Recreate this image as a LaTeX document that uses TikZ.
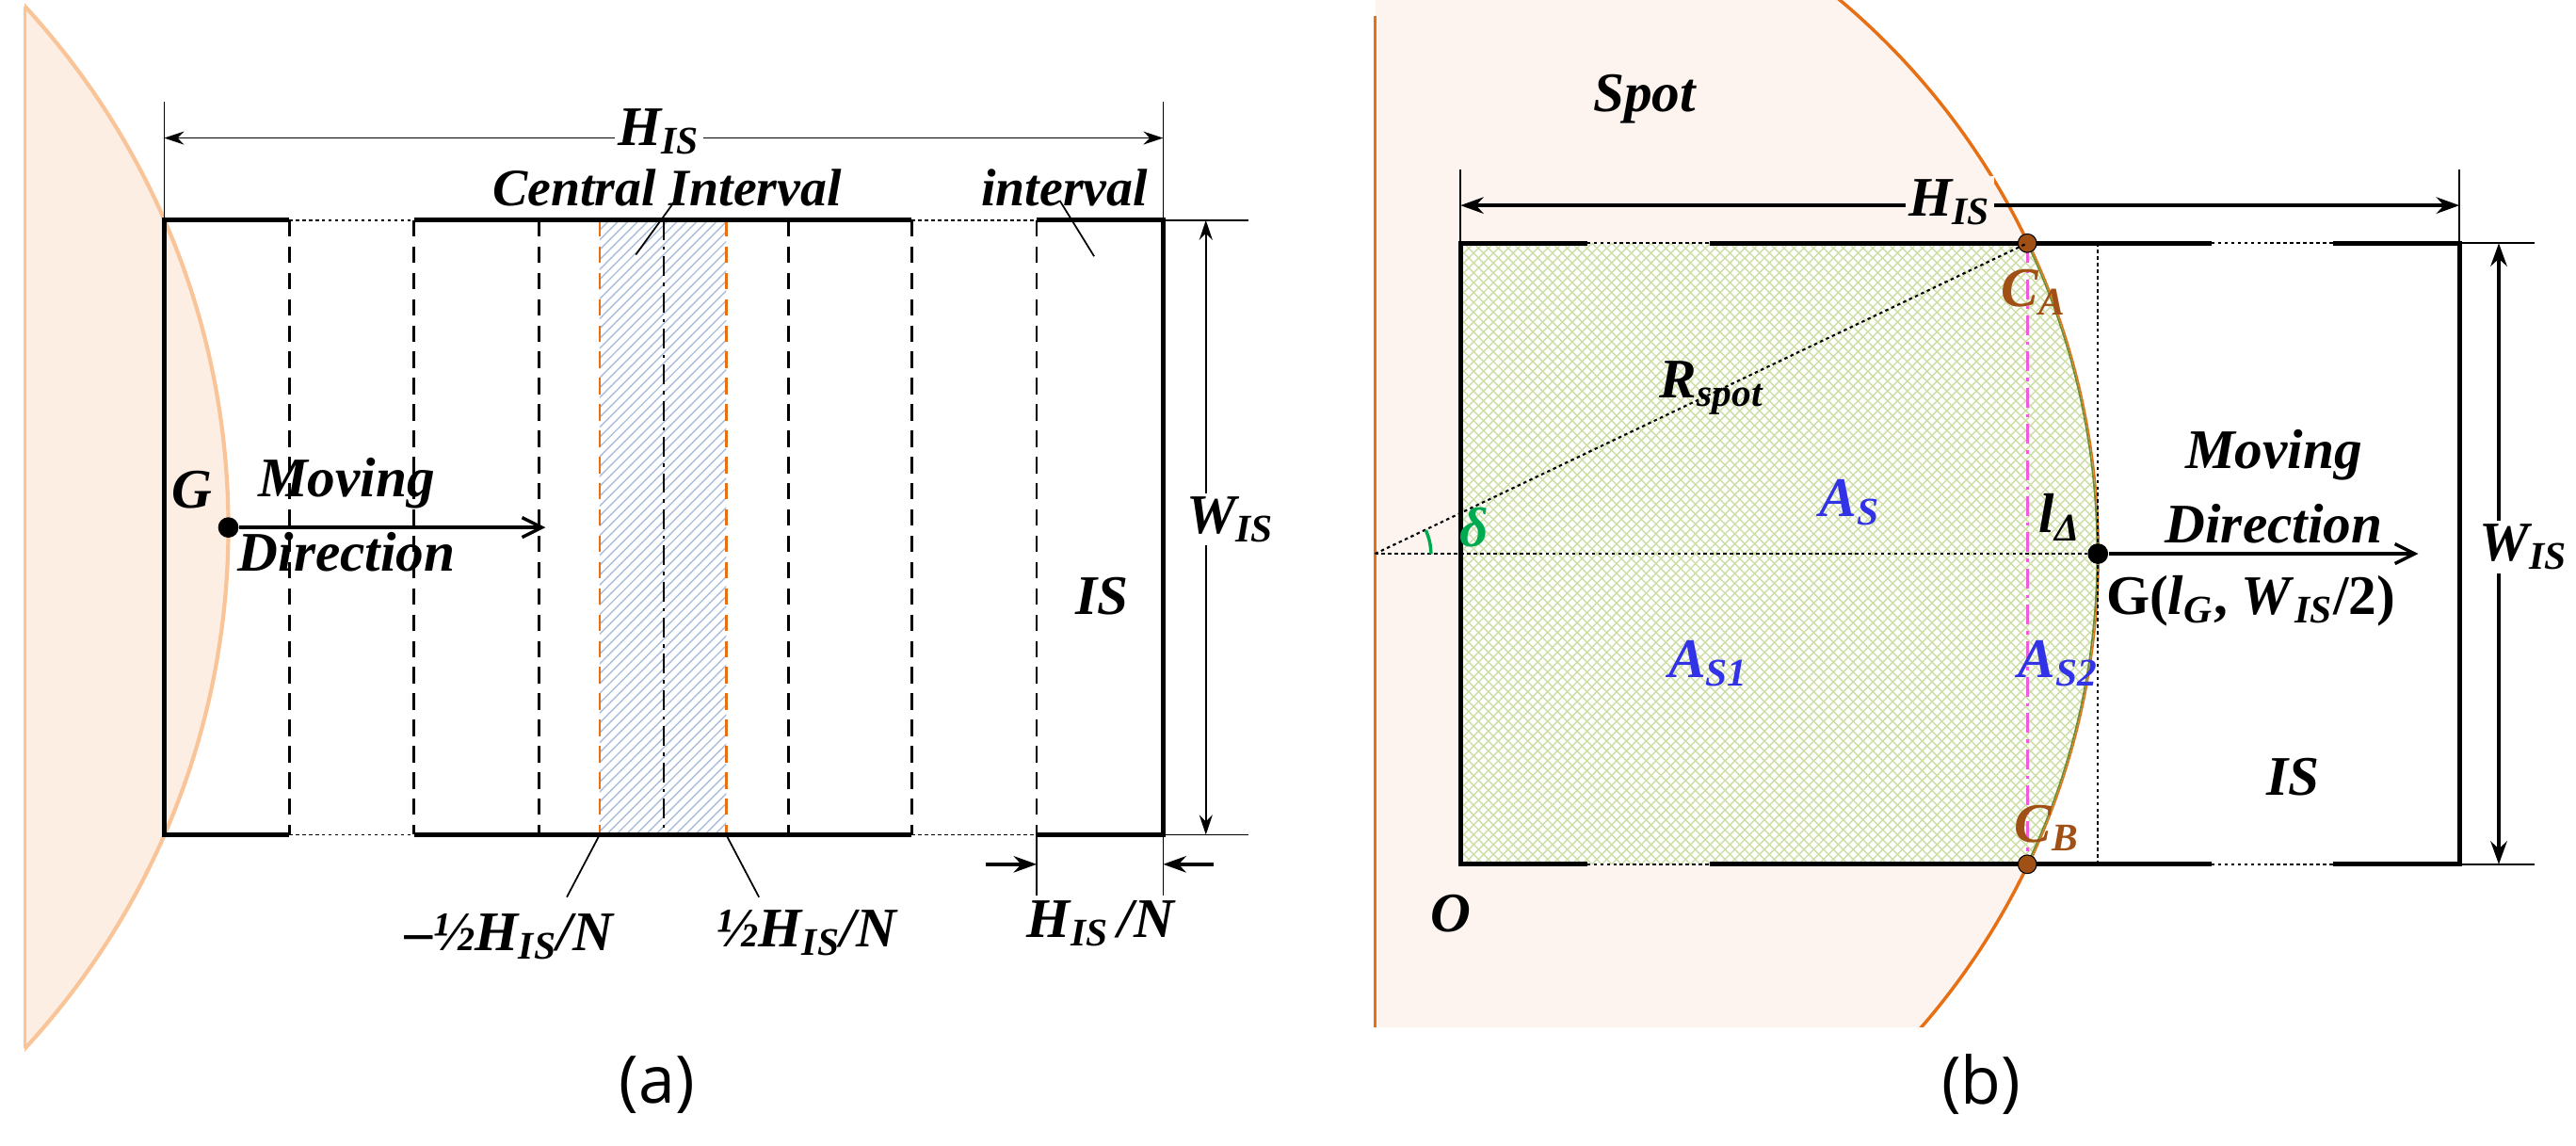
\documentclass[tikz,border=0pt]{standalone}
\usepackage{fontspec}
\setmainfont{Liberation Serif}
\newfontfamily\capfont{Open Sans}
\usetikzlibrary{arrows.meta,patterns}
\definecolor{spotfill}{RGB}{253,238,228}
\definecolor{spotline}{RGB}{249,196,152}
\definecolor{spotfillb}{RGB}{253,244,239}
\definecolor{orng}{RGB}{232,112,20}
\definecolor{hatchblue}{RGB}{170,190,220}
\definecolor{hatchgreen}{RGB}{205,222,165}
\definecolor{brn}{RGB}{160,80,20}
\definecolor{lblue}{RGB}{50,50,230}
\definecolor{grn}{RGB}{0,170,80}
\definecolor{olive}{RGB}{110,140,50}
\definecolor{pnk}{RGB}{240,90,220}
\begin{document}
\begin{tikzpicture}[x=0.5pt,y=-0.5pt,
  lab/.style={font=\fontsize{17}{18}\selectfont\bfseries\itshape,inner sep=1pt},
  captxt/.style={font=\capfont\fontsize{20}{22}\selectfont},
  thick edge/.style={line width=1.5pt},
  thin/.style={line width=0.5pt},
  dim/.style={line width=0.5pt,{Stealth[length=6pt,width=4pt]}-{Stealth[length=6pt,width=4pt]}},
  dimb/.style={line width=1pt,{Stealth[length=7pt,width=5pt]}-{Stealth[length=7pt,width=5pt]}},
  dsh/.style={line width=0.8pt,dash pattern=on 5pt off 3pt},
  dtt/.style={line width=0.5pt,dash pattern=on 1pt off 1pt}]
\useasboundingbox (0,0) rectangle (1568,697);
% ================= (a) =================
\begin{scope}
\clip (15,0) rectangle (400,640);
\fill[spotfill] (-329,321) circle [radius=468];
\draw[spotline,line width=1.2pt] (-329,321) circle [radius=468];
\end{scope}
\draw[spotline,line width=0.8pt] (15,4) -- (15,638);
\fill[pattern=north east lines,pattern color=hatchblue] (365,134) rectangle (442,508);
\foreach \x in {176,252,328,480,555,631}{\draw[dsh] (\x,134) -- (\x,508);}
\foreach \x in {365,442}{\draw[dsh,orng] (\x,134) -- (\x,508);}
\draw[thin,dash pattern=on 6pt off 2pt on 1pt off 2pt] (404,134) -- (404,508);
\draw[thick edge] (176,134) -- (100,134) -- (100,508) -- (176,508);
\draw[thick edge] (252,134) -- (555,134);
\draw[thick edge] (252,508) -- (555,508);
\draw[thick edge] (631,134) -- (708,134) -- (708,508) -- (631,508);
\draw[dtt] (176,134) -- (252,134) (555,134) -- (631,134) (176,508) -- (252,508) (555,508) -- (631,508);
\draw[thin] (100,62) -- (100,134) (708,62) -- (708,134);
\coordinate (aL) at (100,84); \coordinate (aR) at (708,84);
\draw[dim] (aL) -- (aR);
\node[lab,fill=white] (aH) at (401,80) {H\textsubscript{IS}};
\node[lab,font=\fontsize{16}{17}\selectfont\bfseries\itshape] (aC) at (406,114) {Central Interval};
\node[lab,font=\fontsize{16}{17}\selectfont\bfseries\itshape] (aI) at (648,114) {interval};
\draw[thin] (387,155) -- (411,122);
\draw[thin] (666,156) -- (645,122);
\draw[thin] (708,134) -- (760,134) (708,508) -- (760,508);
\draw[dim] (734,134) -- (734,508);
\node[lab,fill=white] (aW) at (749,316) {W\textsubscript{IS}};
\node[lab] (aIS) at (671,363) {IS};
\node[circle,fill=black,inner sep=2.2pt] (aG) at (139,321) {};
\node[lab] (aGl) at (117,298) {G};
\node[lab] (aM) at (211,294) {Moving};
\node[lab] (aD) at (211,336) {Direction};
\coordinate (aE) at (332,321);
\draw[line width=1pt,-{Straight Barb[length=6pt,width=6pt]}] (aG) -- (aE);
\draw[thin] (365,508) -- (345,546) (442,508) -- (462,546);
\node[lab] (am) at (310,570) {--\textonehalf H\textsubscript{IS}/N};
\node[lab] (ap) at (491,568) {\textonehalf H\textsubscript{IS}/N};
\draw[thin] (631,508) -- (631,545) (708,508) -- (708,545);
\draw[line width=1pt,-{Stealth[length=7pt,width=5pt]}] (600,526) -- (631,526);
\draw[line width=1pt,-{Stealth[length=7pt,width=5pt]}] (739,526) -- (708,526);
\node[lab] (aN) at (670,562) {H\textsubscript{IS}\,/N};
\node[captxt] (capa) at (400,660) {(a)};
% ================= (b) =================
\begin{scope}
\clip (837,0) rectangle (1400,625);
\fill[spotfillb] (837,337) circle [radius=440];
\draw[orng,line width=1pt] (837,337) circle [radius=440];
\end{scope}
\draw[orng,line width=1pt] (837,10) -- (837,625);
\begin{scope}
\clip (889,148) rectangle (1300,526);
\clip (837,337) circle [radius=440];
\fill[white] (889,148) rectangle (1300,526);
\fill[pattern=north east lines,pattern color=hatchgreen] (889,148) rectangle (1300,526);
\fill[pattern=north west lines,pattern color=hatchgreen] (889,148) rectangle (1300,526);
\draw[olive,line width=1pt] (837,337) circle [radius=440];
\end{scope}
\draw[thick edge] (966,148) -- (889,148) -- (889,526) -- (966,526);
\draw[thick edge] (1041,148) -- (1346,148) (1041,526) -- (1346,526);
\draw[thick edge] (1420,148) -- (1497,148) -- (1497,526) -- (1420,526);
\draw[dtt] (1346,148) -- (1420,148) (1346,526) -- (1420,526) (966,148) -- (1041,148) (966,526) -- (1041,526);
\draw[dtt] (1277,148) -- (1277,526);
\draw[pnk,line width=0.8pt,dash pattern=on 6pt off 2pt on 1pt off 2pt] (1234,148) -- (1234,526);
\coordinate (bO) at (837,337);
\node[circle,fill=brn,draw=black,line width=0.3pt,inner sep=2pt] (CA) at (1234,148) {};
\node[circle,fill=brn,draw=black,line width=0.3pt,inner sep=2pt] (CB) at (1234,526) {};
\node[circle,fill=black,inner sep=2.2pt] (bG) at (1277,337) {};
\draw[dtt,line width=0.6pt] (bO) -- (CA.center);
\draw[dtt,line width=0.6pt] (bO) -- (bG);
\coordinate (bE) at (1472,337);
\draw[line width=1pt,-{Straight Barb[length=6pt,width=6pt]}] (bG) -- (bE);
\draw[grn,line width=1pt] (871,337) arc[start angle=0,end angle=-25,radius=34];
\node[lab,grn] (delta) at (897,321) {δ};
\draw[thin] (889,103) -- (889,148) (1497,103) -- (1497,148);
\draw[dimb] (889,125) -- (1497,125);
\node[lab,fill=spotfillb] (bH) at (1187,123) {H\textsubscript{IS}};
\draw[thin] (1497,148) -- (1543,148) (1497,526) -- (1543,526);
\draw[dimb] (1521,148) -- (1521,526);
\node[lab,fill=white] (bW) at (1536,333) {W\textsubscript{IS}};
\node[lab] (spot) at (1001,60) {Spot};
\node[lab,brn] (CAl) at (1238,178) {C\textsubscript{A}};
\node[lab,brn] (CBl) at (1246,504) {C\textsubscript{B}};
\node[lab] (R) at (1042,236) {R\textsubscript{spot}};
\node[lab,lblue] (AS) at (1126,306) {A\textsubscript{S}};
\node[lab] (ld) at (1254,315) {l\textsubscript{Δ}};
\node[lab,lblue] (AS1) at (1040,404) {A\textsubscript{S1}};
\node[lab,lblue] (AS2) at (1253,404) {A\textsubscript{S2}};
\node[lab] (bM) at (1384,277) {Moving};
\node[lab] (bD) at (1384,319) {Direction};
\node[font=\fontsize{17}{18}\selectfont\bfseries,inner sep=1pt] (Gl) at (1370,366) {G(\textit{l}\textsubscript{\textit{G}}, \textit{W}\textsubscript{\textit{IS}}/2)};
\node[lab] (bIS) at (1396,473) {IS};
\node[lab] (Ol) at (883,556) {O};
\node[captxt] (capb) at (1206,660) {(b)};
\end{tikzpicture}
\end{document}
